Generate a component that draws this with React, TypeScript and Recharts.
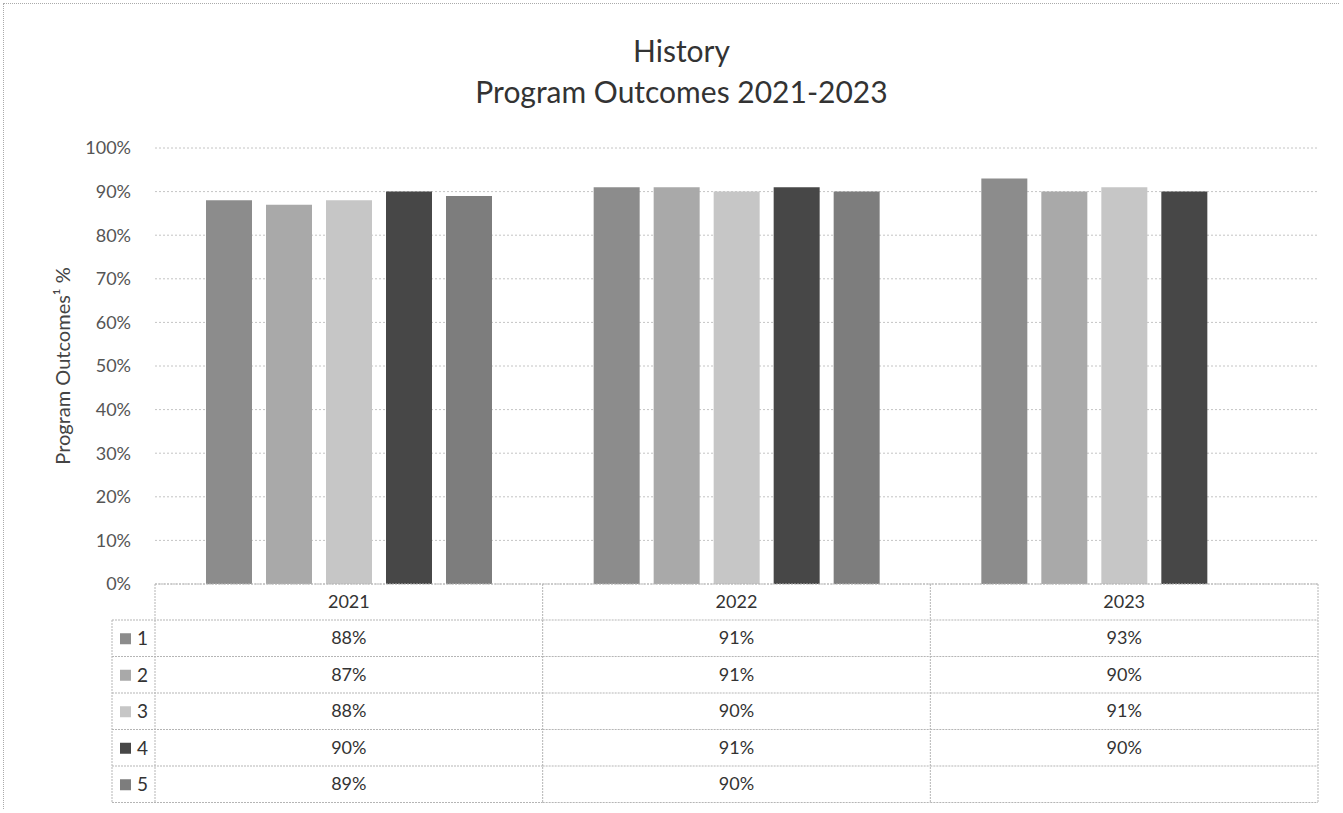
import { BarChart, Bar, XAxis, YAxis, CartesianGrid } from 'recharts'

const years = ['2021', '2022', '2023']
const seriesNames = ['1', '2', '3', '4', '5']
const outcome1 = [0.88, 0.91, 0.93]
const outcome2 = [0.87, 0.91, 0.9]
const outcome3 = [0.88, 0.9, 0.91]
const outcome4 = [0.9, 0.91, 0.9]
const outcome5 = [0.89, 0.9, null]
const yTicks = [0, 0.1, 0.2, 0.3, 0.4, 0.5, 0.6, 0.7, 0.8, 0.9, 1]

const seriesValues = [outcome1, outcome2, outcome3, outcome4, outcome5]
const colors = ['#8c8c8c', '#a9a9a9', '#c6c6c6', '#474747', '#7d7d7d']

const chartData = years.map((y, i) => {
  const row: Record<string, string | number | null> = { year: y }
  seriesValues.forEach((vals, s) => {
    row[`s${s + 1}`] = vals[i]
  })
  return row
})

const PLOT_LEFT = 155
const PLOT_RIGHT = 1318
const BAND = (PLOT_RIGHT - PLOT_LEFT) / years.length
const HEADER_H = 36
const ROW_H = 36.5
const KEY_LEFT = 112
const LINE = '#b5b5b5'
const FONT = 'Lato, "Open Sans", sans-serif'

function pct(v: number | null) {
  return v === null ? '' : `${Math.round(v * 100)}%`
}

// x-axis tick draws one column of the data table under the plot
function TableTick(props: any) {
  const { x, y, payload } = props
  const idx = payload.index
  const left = x - BAND / 2
  const right = x + BAND / 2
  const top = y
  const rowsTop = top + HEADER_H
  const bottom = rowsTop + ROW_H * seriesNames.length
  const parts: any[] = []

  parts.push(
    <text key="h" x={x} y={top + HEADER_H / 2 + 6} textAnchor="middle" fontSize={18} fill="#333" fontFamily={FONT}>
      {payload.value}
    </text>
  )
  seriesNames.forEach((_, s) => {
    const ry = rowsTop + ROW_H * s
    parts.push(
      <line key={`r${s}`} x1={idx === 0 ? KEY_LEFT : left} x2={right} y1={ry} y2={ry} stroke={LINE} strokeDasharray="2 1" />
    )
    parts.push(
      <text key={`v${s}`} x={x} y={ry + ROW_H / 2 + 6} textAnchor="middle" fontSize={18} fill="#333" fontFamily={FONT}>
        {pct(seriesValues[s][idx])}
      </text>
    )
    if (idx === 0) {
      parts.push(<rect key={`k${s}`} x={120} y={ry + ROW_H / 2 - 5} width={11} height={11} fill={colors[s]} />)
      parts.push(
        <text key={`n${s}`} x={137} y={ry + ROW_H / 2 + 7} fontSize={19} fill="#333" fontFamily={FONT}>
          {seriesNames[s]}
        </text>
      )
    }
  })
  parts.push(
    <line key="b" x1={idx === 0 ? KEY_LEFT : left} x2={right} y1={bottom} y2={bottom} stroke={LINE} strokeDasharray="2 1" />
  )
  parts.push(<line key="rv" x1={right} x2={right} y1={top} y2={bottom} stroke={LINE} strokeDasharray="2 1" />)
  if (idx === 0) {
    parts.push(<line key="lv" x1={left} x2={left} y1={top} y2={bottom} stroke={LINE} strokeDasharray="2 1" />)
    parts.push(<line key="kv" x1={KEY_LEFT} x2={KEY_LEFT} y1={rowsTop} y2={bottom} stroke={LINE} strokeDasharray="2 1" />)
  }
  return <g>{parts}</g>
}

export default function App() {
  return (
    <div style={{ position: 'absolute', left: 0, top: 0, width: 1343, height: 813, background: '#fff' }}>
      <div
        style={{
          position: 'absolute',
          left: 3,
          top: 3,
          width: 1336,
          height: 806,
          borderTop: '1px dotted #aaa',
          borderLeft: '1px dotted #aaa',
          boxSizing: 'border-box',
        }}
      />
      <div
        style={{
          position: 'absolute',
          left: 10,
          top: 30,
          width: 1343,
          textAlign: 'center',
          fontFamily: FONT,
          fontSize: 30,
          lineHeight: '41px',
          color: '#333',
        }}
      >
        <div>History</div>
        <div>Program Outcomes 2021-2023</div>
      </div>
      <div style={{ position: 'absolute', left: 0, top: 0 }}>
        <BarChart
          width={1343}
          height={813}
          data={chartData}
          margin={{ top: 148, right: 1343 - PLOT_RIGHT, bottom: 9, left: 45 }}
          barSize={46}
          barGap={14}
        >
          <CartesianGrid vertical={false} stroke="#c4c4c4" strokeDasharray="2 2" />
          <XAxis
            dataKey="year"
            height={220}
            axisLine={{ stroke: LINE, strokeDasharray: '2 1' }}
            tickLine={false}
            tickSize={0}
            tickMargin={0}
            interval={0}
            tick={<TableTick />}
          />
          <YAxis
            width={110}
            domain={[0, 1]}
            ticks={yTicks}
            tickFormatter={(v: number) => `${Math.round(v * 100)}%`}
            axisLine={false}
            tickLine={false}
            tickSize={0}
            tickMargin={24}
            tick={{ fontSize: 18, fill: '#555', fontFamily: FONT }}
            label={{
              value: 'Program Outcomes¹ %',
              angle: -90,
              position: 'insideLeft',
              offset: 18,
              style: { textAnchor: 'middle', fontSize: 20, fill: '#444', fontFamily: FONT },
            }}
          />
          {seriesNames.map((n, s) => (
            <Bar key={n} dataKey={`s${s + 1}`} name={n} fill={colors[s]} isAnimationActive={false} />
          ))}
        </BarChart>
      </div>
    </div>
  )
}
